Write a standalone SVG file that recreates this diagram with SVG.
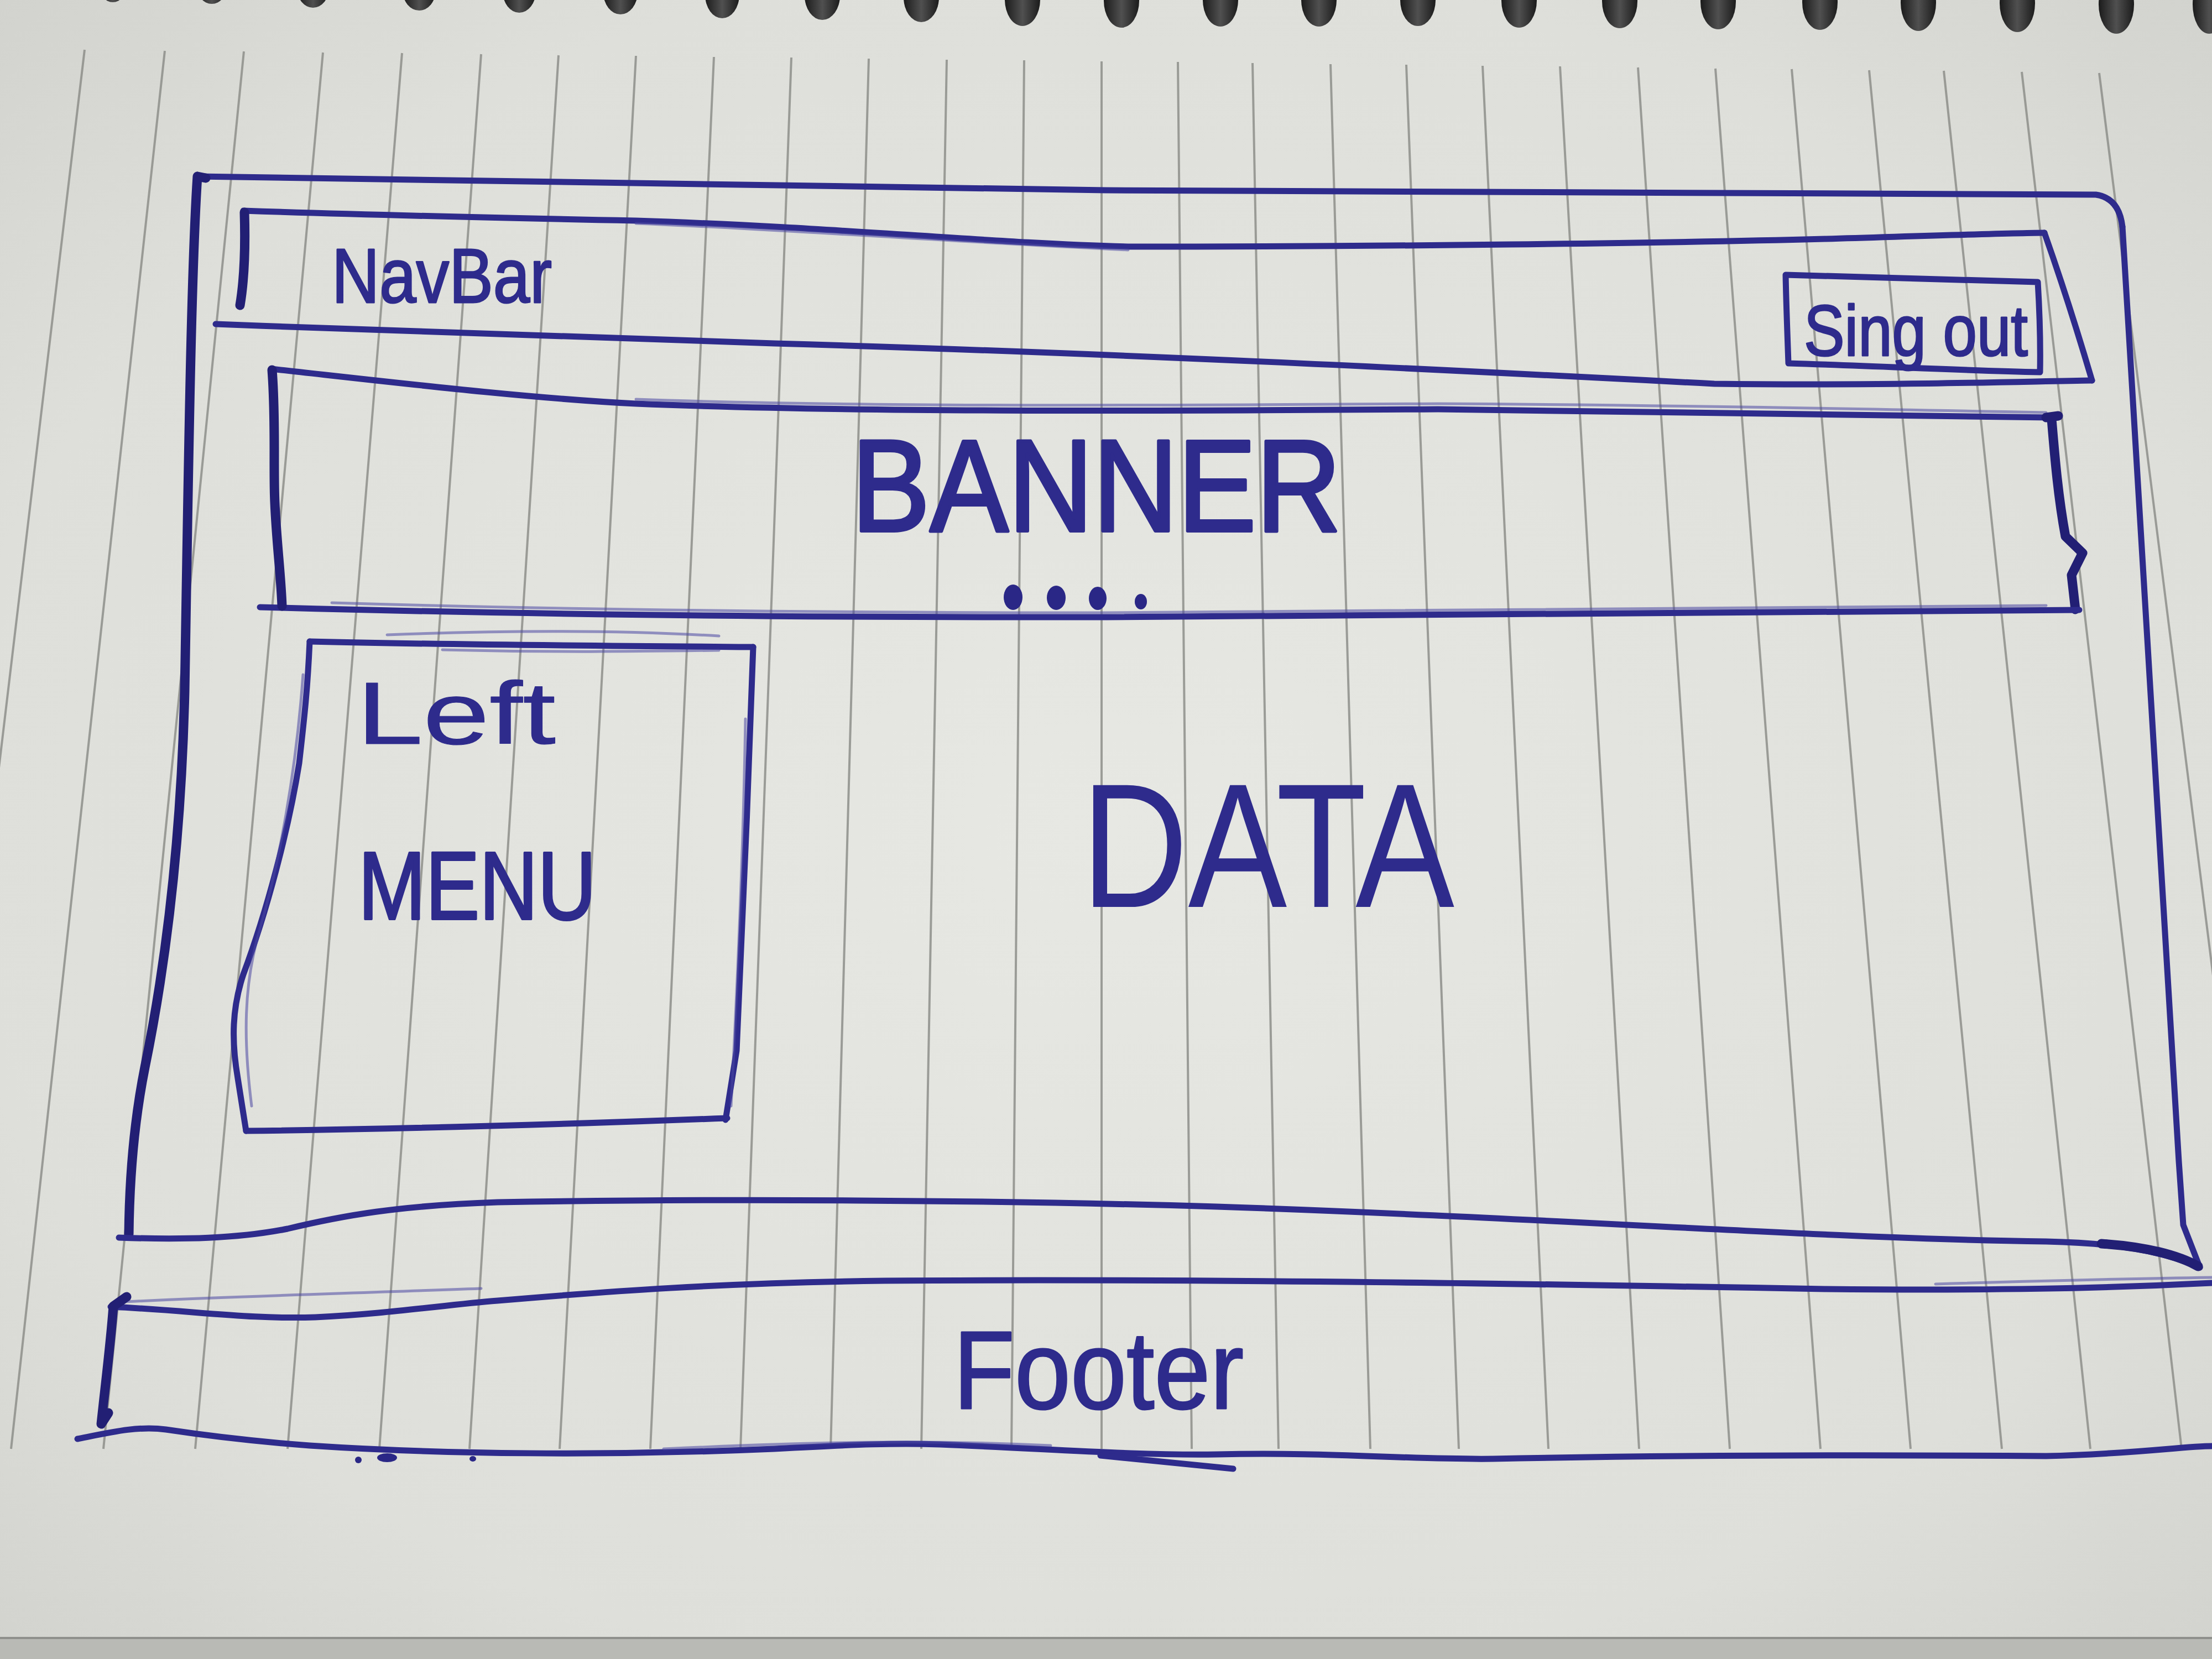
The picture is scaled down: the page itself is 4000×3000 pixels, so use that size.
<svg xmlns="http://www.w3.org/2000/svg" width="4000" height="3000" viewBox="0 0 4000 3000">
<defs>
  <radialGradient id="paperGrad" cx="0.5" cy="0.5" r="0.75">
    <stop offset="0" stop-color="#e7e8e3"/>
    <stop offset="0.7" stop-color="#dedfda"/>
    <stop offset="1" stop-color="#cfd0cb"/>
  </radialGradient>
  <linearGradient id="holeGrad" x1="0" y1="0" x2="1" y2="0">
    <stop offset="0" stop-color="#1b1b1b"/>
    <stop offset="0.5" stop-color="#505050"/>
    <stop offset="1" stop-color="#1b1b1b"/>
  </linearGradient>
</defs>
<style>
  .ink{fill:none;stroke:#2e2b8c;stroke-width:11;stroke-linecap:round;stroke-linejoin:round}
  .heavy{fill:none;stroke:#221f74;stroke-width:17;stroke-linecap:round;stroke-linejoin:round}
  .light{fill:none;stroke:#4a47a3;stroke-width:5;stroke-linecap:round;stroke-linejoin:round;opacity:0.55}
  .rule{fill:none;stroke:#8d8e8a;stroke-width:4;opacity:0.85}
  .hole{fill:url(#holeGrad)}
  .label{font-family:"Liberation Sans","DejaVu Sans",sans-serif;fill:#2e2b8c;stroke:#2e2b8c;stroke-linejoin:round}
  .dot{fill:#2a2786}
</style>

<!-- paper -->
<g id="paper">
  <rect x="0" y="0" width="4000" height="3000" fill="url(#paperGrad)"/>
  <path class="rule" d="M153,90 L-149,2620 M298,92 L20,2620 M441,93 L187,2620 M584,95 L353,2620 M727,96 L520,2620 M870,98 L686,2620 M1010,100 L849,2620 M1150,101 L1012,2620 M1291,103 L1176,2620 M1431,104 L1339,2620 M1571,106 L1502,2620 M1712,108 L1666,2620 M1852,109 L1829,2620 M1992,111 L1992,2620 M2130,112 L2155,2620 M2265,114 L2312,2620 M2406,116 L2478,2620 M2543,117 L2638,2620 M2681,119 L2800,2620 M2821,120 L2964,2620 M2962,122 L3128,2620 M3102,124 L3292,2620 M3240,125 L3455,2620 M3380,127 L3620,2620 M3515,128 L3780,2620 M3656,130 L3945,2620 M3796,132 L4110,2620"/>
  <g id="spiral">
    <ellipse class="hole" cx="204" cy="-30" rx="26" ry="34"/>
    <ellipse class="hole" cx="383" cy="-27" rx="28" ry="34"/>
    <ellipse class="hole" cx="566" cy="-22" rx="29" ry="36"/>
    <ellipse class="hole" cx="758" cy="-18" rx="30" ry="37"/>
    <ellipse class="hole" cx="939" cy="-16" rx="30" ry="39"/>
    <ellipse class="hole" cx="1122" cy="-14" rx="31" ry="40"/>
    <ellipse class="hole" cx="1306" cy="-10" rx="31" ry="43"/>
    <ellipse class="hole" cx="1487" cy="-8" rx="32" ry="44"/>
    <ellipse class="hole" cx="1666" cy="-5" rx="32" ry="45"/>
    <ellipse class="hole" cx="1849" cy="-1" rx="32" ry="48"/>
    <ellipse class="hole" cx="2028" cy="1" rx="32" ry="49"/>
    <ellipse class="hole" cx="2207" cy="0" rx="32" ry="48"/>
    <ellipse class="hole" cx="2385" cy="0" rx="32" ry="48"/>
    <ellipse class="hole" cx="2564" cy="0" rx="32" ry="47"/>
    <ellipse class="hole" cx="2747" cy="1" rx="32" ry="49"/>
    <ellipse class="hole" cx="2929" cy="2" rx="32" ry="49"/>
    <ellipse class="hole" cx="3107" cy="3" rx="32" ry="50"/>
    <ellipse class="hole" cx="3291" cy="4" rx="32" ry="50"/>
    <ellipse class="hole" cx="3469" cy="5" rx="32" ry="51"/>
    <ellipse class="hole" cx="3648" cy="6" rx="32" ry="52"/>
    <ellipse class="hole" cx="3827" cy="8" rx="32" ry="53"/>
    <ellipse class="hole" cx="3995" cy="8" rx="30" ry="53"/>
  </g>
  <rect x="0" y="2962" width="4000" height="38" fill="#b9bab5"/>
  <path d="M0,2962 L4000,2962" stroke="#8f908c" stroke-width="4"/>
</g>

<!-- outer page frame -->
<g id="page">
  <path class="ink" d="M357,319 C800,330 1300,338 2000,344 C2800,349 3400,351 3790,352 Q3832,358 3838,410"/>
  <path class="ink" d="M3838,410 C3868,900 3905,1500 3940,2100 L3948,2215 L3978,2292"/>
  <path class="heavy" d="M357,319 L372,322 M357,319 C345,500 340,900 334,1250 C328,1500 305,1720 262,1930 C240,2040 234,2140 233,2232"/>
  <path class="ink" d="M215,2238 C330,2242 430,2240 520,2222 C620,2198 720,2180 900,2174 C1300,2167 1800,2170 2200,2182 C2800,2202 3300,2240 3700,2245 C3830,2248 3910,2262 3978,2292"/>
  <path class="heavy" d="M3800,2249 C3880,2254 3940,2270 3975,2290"/>
</g>

<!-- navbar -->
<g id="navbar">
  <path class="ink" d="M440,381 C700,390 1000,396 1150,399 C1500,410 1800,440 2040,446 C2500,446 3000,440 3300,432 C3500,426 3650,421 3697,421"/>
  <path class="light" d="M1150,404 C1400,414 1700,436 2040,452"/>
  <path class="ink" d="M3697,421 C3725,500 3757,600 3783,688"/>
  <path class="ink" d="M390,586 C700,598 1000,610 1400,621 C2000,638 2600,668 3100,694 C3400,698 3650,690 3783,688"/>
  <path class="heavy" d="M442,384 C444,450 441,510 434,552"/>
  <text class="label" x="600" y="547" font-size="140" stroke-width="3" textLength="398" lengthAdjust="spacingAndGlyphs">NavBar</text>
</g>

<!-- sign out button -->
<g id="signout">
  <path class="ink" d="M3229,497 C3400,502 3550,505 3685,510 C3688,560 3690,620 3689,673 C3550,670 3400,662 3234,657 C3232,600 3230,550 3229,497 Z"/>
  <text class="label" x="3262" y="643" font-size="130" stroke-width="3" textLength="405" lengthAdjust="spacingAndGlyphs">Sing out</text>
</g>

<!-- banner -->
<g id="banner">
  <path class="ink" d="M490,667 C700,690 950,720 1150,730 C1600,748 2200,742 2600,740 C3000,742 3400,750 3707,755"/>
  <path class="light" d="M1150,722 C1600,738 2200,732 2600,730 C3000,732 3400,740 3700,746"/>
  <path class="heavy" d="M3700,755 L3722,752 M3710,758 C3716,830 3722,900 3735,970 L3766,1000 L3746,1040 L3753,1102"/>
  <path class="ink" d="M470,1098 C900,1110 1400,1117 2000,1116 C2600,1113 3200,1108 3760,1103"/>
  <path class="light" d="M600,1090 C1000,1102 1500,1108 2000,1108 C2600,1105 3200,1100 3700,1095"/>
  <path class="heavy" d="M492,669 C499,760 494,850 497,909 C500,980 508,1040 510,1096"/>
  <text class="label" x="1540" y="960" font-size="235" stroke-width="6" textLength="885" lengthAdjust="spacingAndGlyphs">BANNER</text>
  <ellipse class="dot" cx="1832" cy="1080" rx="17" ry="23"/>
  <ellipse class="dot" cx="1910" cy="1081" rx="17" ry="22"/>
  <ellipse class="dot" cx="1985" cy="1082" rx="16" ry="21"/>
  <ellipse class="dot" cx="2063" cy="1088" rx="11" ry="14"/>
</g>

<!-- left menu -->
<g id="left-menu">
  <path class="ink" d="M560,1160 C800,1166 1100,1168 1362,1170"/>
  <path class="light" d="M700,1148 C900,1140 1100,1138 1300,1150 M800,1175 C1000,1180 1150,1178 1300,1176"/>
  <path class="ink" d="M1362,1170 C1354,1400 1342,1700 1332,1900 L1312,2025"/>
  <path class="light" d="M1348,1300 C1345,1500 1335,1750 1322,2000"/>
  <path class="ink" d="M1315,2022 C1000,2034 700,2042 445,2045"/>
  <path class="ink" d="M560,1160 C556,1250 550,1300 541,1380 C522,1500 482,1650 440,1762 C420,1822 418,1880 430,1950 L445,2045"/>
  <path class="light" d="M548,1220 C535,1400 505,1560 470,1680 C440,1780 440,1880 455,2000"/>
  <text class="label" x="645" y="1345" font-size="160" stroke-width="1" textLength="360" lengthAdjust="spacingAndGlyphs">Left</text>
  <text class="label" x="648" y="1662" font-size="175" stroke-width="4" textLength="430" lengthAdjust="spacingAndGlyphs">MENU</text>
</g>

<!-- data area label -->
<g id="data">
  <text class="label" x="1955" y="1640" font-size="320" stroke-width="0" textLength="675" lengthAdjust="spacingAndGlyphs">DATA</text>
</g>

<!-- footer -->
<g id="footer">
  <path class="ink" d="M200,2363 C350,2370 450,2386 570,2382 C700,2376 800,2360 900,2352 C1100,2335 1300,2320 1600,2316 C2200,2312 2800,2322 3300,2331 C3600,2334 3800,2330 4000,2320"/>
  <path class="light" d="M205,2355 C400,2345 600,2340 870,2330 M3500,2322 C3700,2316 3850,2312 4000,2310"/>
  <path class="heavy" d="M229,2345 L205,2362 C200,2430 191,2500 183,2575 L196,2555"/>
  <path class="ink" d="M140,2602 C200,2590 250,2578 300,2585 C400,2600 480,2608 560,2614 C800,2630 1100,2633 1400,2620 C1550,2612 1620,2609 1700,2612 C1900,2620 2050,2632 2200,2630 C2400,2625 2550,2640 2700,2638 C3000,2632 3300,2630 3700,2633 C3850,2630 3950,2615 4000,2615"/>
  <path class="ink" d="M1990,2632 L2230,2656"/>
  <path class="light" d="M1200,2620 C1500,2606 1700,2604 1900,2614"/>
  <ellipse class="dot" cx="700" cy="2636" rx="18" ry="8"/>
  <ellipse class="dot" cx="648" cy="2640" rx="6" ry="6"/>
  <ellipse class="dot" cx="855" cy="2638" rx="6" ry="5"/>
  <text class="label" x="1724" y="2547" font-size="200" stroke-width="3" textLength="525" lengthAdjust="spacingAndGlyphs">Footer</text>
</g>

<g id="connectors"/>
</svg>
